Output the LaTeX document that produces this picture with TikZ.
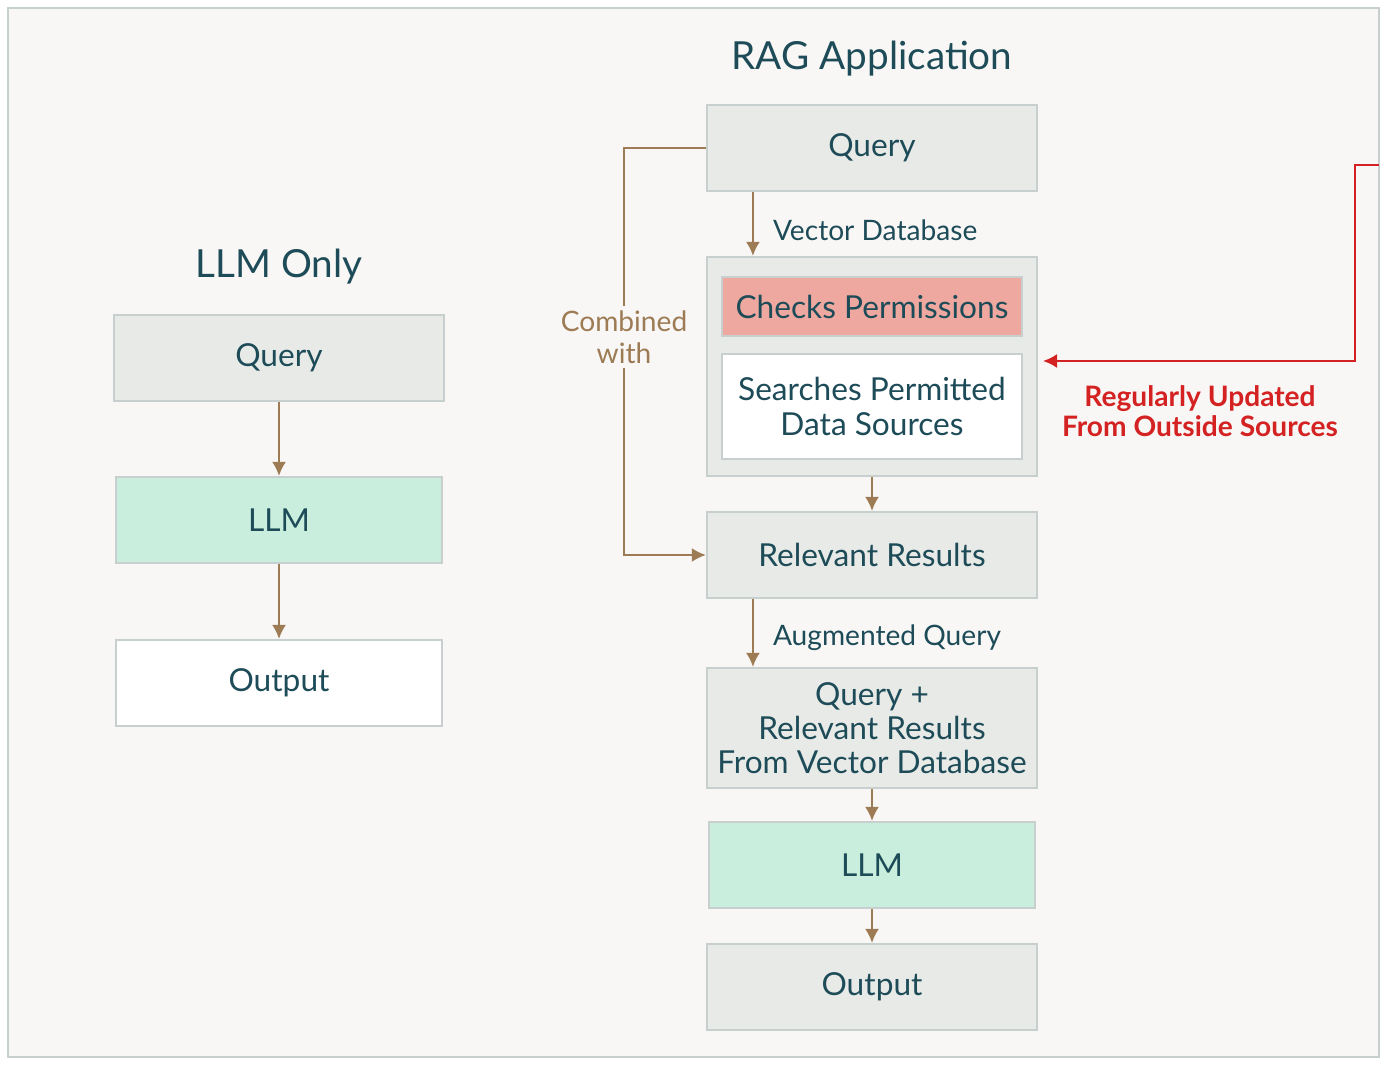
\documentclass[tikz,border=0pt]{standalone}
\usepackage{fontspec}
\setmainfont{Lato}
\usetikzlibrary{arrows.meta}
\usetikzlibrary{graphs}
\definecolor{paper}{HTML}{F8F7F5}
\definecolor{rim}{HTML}{C8CFCF}
\definecolor{grey}{HTML}{E8EAE7}
\definecolor{mint}{HTML}{C9EEDD}
\definecolor{salmon}{HTML}{EEA89F}
\definecolor{ink}{HTML}{1D4B58}
\definecolor{brown}{HTML}{9C7B55}
\definecolor{alert}{HTML}{D42222}

\begin{document}
\begin{tikzpicture}[x=0.01cm, y=-0.01cm,
	main/.style={draw=rim, line width=0.6pt, fill=grey, text=ink, minimum width=3.3cm, minimum height=0.86cm, inner sep=0pt, align=center, font=\fontsize{9}{9.7}\selectfont},
	head/.style={text=ink, font=\fontsize{11}{13}\selectfont},
	tag/.style={text=ink, anchor=west, inner sep=0pt, font=\fontsize{8}{9}\selectfont},
	link/.style={draw=brown, line width=0.6pt, -{Latex[length=4pt, width=4pt]}}]
	%Rammen
	\useasboundingbox (0,0) rectangle (1388,1067);
	\fill[white] (0,0) rectangle (1388,1067);
	\draw[draw=rim, fill=paper, line width=0.6pt] (8,8) rectangle (1379,1057);

	%Venstre side
	\node[head] (t1) at (279,267) {LLM Only};
	\node[main] (1) at (279,358) {Query};
	\node[main, fill=mint, minimum width=3.26cm] (2) at (279,520) {LLM};
	\node[main, fill=white, minimum width=3.26cm] (3) at (279,683) {Output};

	%Høyre side
	\node[head] (t2) at (872,59) {RAG Application};
	\node[main] (4) at (872,148) {Query};
	\node[main, minimum height=2.19cm] (5) at (872,366.5) {};
	\node[main, fill=salmon, minimum width=3cm, minimum height=0.59cm] (5a) at (872,306.5) {Checks Permissions};
	\node[main, fill=white, minimum width=3cm, minimum height=1.05cm] (5b) at (872,406.5) {Searches Permitted\\Data Sources};
	\node[main] (6) at (872,555) {Relevant Results};
	\node[main, minimum height=1.2cm] (7) at (872,728) {Query +\\Relevant Results\\From Vector Database};
	\node[main, fill=mint, minimum width=3.26cm] (8) at (872,865) {LLM};
	\node[main] (9) at (872,987) {Output};

	%Kantene
	\graph[edges=link] {
		(1) -> (2) -> (3);
		(5) -> (6);
		(7) -> (8) -> (9);
	};
	\draw[link] ([xshift=-1.19cm]4.south) -- ([xshift=-1.19cm]5.north) node[tag, midway, xshift=0.19cm, yshift=-0.06cm] {Vector Database};
	\draw[link] ([xshift=-1.19cm]6.south) -- ([xshift=-1.19cm]7.north) node[tag, midway, xshift=0.19cm, yshift=-0.05cm] {Augmented Query};

	%Combined with
	\node[text=brown, align=center, fill=paper, inner sep=1pt, font=\fontsize{8}{9}\selectfont] (c) at (624,337) {Combined\\with};
	\draw[draw=brown, line width=0.6pt] (4.west) -| (c.north);
	\draw[link] (c.south) |- (6.west);

	%Oppdateringer
	\coordinate (r) at (1379,165);
	\coordinate (s) at (1043,361);
	\draw[draw=alert, line width=0.6pt, -{Latex[length=4pt, width=4pt]}] (r) -- (1355,165) |- (s);
	\node[text=alert, align=center, font=\bfseries\fontsize{8}{8.6}\selectfont] (u) at (1200,411) {Regularly Updated\\From Outside Sources};
\end{tikzpicture}
\end{document}
